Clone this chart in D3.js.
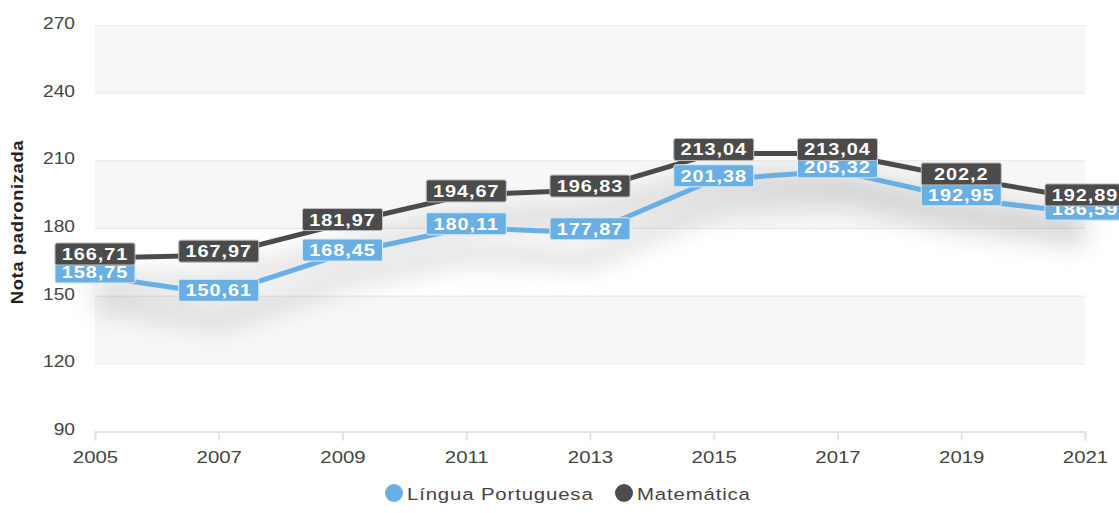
<!DOCTYPE html>
<html>
<head>
<meta charset="utf-8">
<script src="https://cdn.jsdelivr.net/npm/d3@7"></script>
<style>
  body { margin: 0; background: #fff; }
  svg { display: block; font-family: "Liberation Sans", Arial, sans-serif; }
</style>
</head>
<body>
<div id="chart"></div>
<script>
const years = [2005, 2007, 2009, 2011, 2013, 2015, 2017, 2019, 2021];
const portugues = [158.75, 150.61, 168.45, 180.11, 177.87, 201.38, 205.32, 192.95, 186.59];
const matematica = [166.71, 167.97, 181.97, 194.67, 196.83, 213.04, 213.04, 202.2, 192.89];
const yTicks = [90, 120, 150, 180, 210, 240, 270];
const seriesNames = ["Língua Portuguesa", "Matemática"];

const width = 1119;
const height = 513;

const svg = d3.select("#chart")
    .append("svg")
    .attr("width", width)
    .attr("height", height);

const x = d3.scaleLinear().domain([2005, 2021]).range([95, 1085]);
const y = d3.scaleLinear().domain([90, 270]).range([431, 25]);

const colors = { port: "#6aafe3", mat: "#4b4b4b" };

// shadow filter under the lines
const defs = svg.append("defs");
const f = defs.append("filter").attr("id", "shadow")
    .attr("x", "-10%").attr("y", "-50%").attr("width", "120%").attr("height", "300%");
f.append("feGaussianBlur").attr("in", "SourceAlpha").attr("stdDeviation", 12);
f.append("feOffset").attr("dy", 26).attr("result", "b");
f.append("feFlood").attr("flood-color", "#000").attr("flood-opacity", 0.17);
f.append("feComposite").attr("in2", "b").attr("operator", "in");

// alternating bands
const bands = [[240, 270], [180, 210], [120, 150]];
svg.append("g").selectAll("rect")
    .data(bands)
    .enter()
    .append("rect")
    .attr("x", x(2005))
    .attr("width", x(2021) - x(2005))
    .attr("y", d => y(d[1]))
    .attr("height", d => y(d[0]) - y(d[1]))
    .attr("fill", "#f7f7f7");

// grid lines
svg.append("g").selectAll("line")
    .data(yTicks.filter(t => t !== 90))
    .enter()
    .append("line")
    .attr("x1", x(2005))
    .attr("x2", x(2021))
    .attr("y1", d => y(d) + 0.5)
    .attr("y2", d => y(d) + 0.5)
    .attr("stroke", "#e9e9e9")
    .attr("stroke-width", 1);

// y axis labels (text is a bit wide in the original, so stretch it)
svg.append("g").selectAll("text")
    .data(yTicks)
    .enter()
    .append("text")
    .attr("transform", d => "translate(75," + (y(d) + 4) + ") scale(1.13,1)")
    .attr("text-anchor", "end")
    .attr("font-size", "17px")
    .attr("fill", "#444")
    .text(d => d);

svg.append("text")
    .attr("transform", "translate(23,222) rotate(-90) scale(1.08,1)")
    .attr("text-anchor", "middle")
    .attr("font-size", "17px")
    .attr("font-weight", "bold")
    .attr("letter-spacing", "0.6px")
    .attr("fill", "#222")
    .text("Nota padronizada");

// x axis
const xAxis = d3.axisBottom(x)
    .tickValues(years)
    .tickFormat(d3.format("d"))
    .tickSize(9)
    .tickPadding(10);

const gx = svg.append("g")
    .attr("transform", "translate(0," + (y(90) + 0.5) + ")")
    .call(xAxis);
gx.select(".domain").attr("stroke", "#e3e3e3").attr("stroke-width", 2);
gx.selectAll(".tick line").attr("stroke", "#e3e3e3").attr("stroke-width", 2);
gx.selectAll(".tick text")
    .attr("font-family", "'Liberation Sans', Arial, sans-serif")
    .attr("font-size", "17px")
    .attr("transform", "scale(1.2,1)")
    .attr("fill", "#444");

// lines
const series = [
    { key: "port", values: portugues },
    { key: "mat", values: matematica }
];

const line = d3.line()
    .x((d, i) => x(years[i]))
    .y(d => y(d));

svg.append("g")
    .attr("filter", "url(#shadow)")
    .selectAll("path")
    .data(series)
    .enter()
    .append("path")
    .attr("d", d => line(d.values))
    .attr("fill", "none")
    .attr("stroke", "#000")
    .attr("stroke-width", 14);

svg.append("g")
    .selectAll("path")
    .data(series)
    .enter()
    .append("path")
    .attr("d", d => line(d.values))
    .attr("fill", "none")
    .attr("stroke", d => colors[d.key])
    .attr("stroke-width", 5)
    .attr("stroke-linejoin", "round");

// data labels
const fmt = v => String(v).replace(".", ",");

series.forEach(s => {
    const g = svg.append("g").selectAll("g")
        .data(s.values)
        .enter()
        .append("g")
        .attr("transform", (d, i) => "translate(" + x(years[i]) + "," + (y(d) - 4) + ")");

    g.append("rect")
        .attr("x", -40)
        .attr("y", -11)
        .attr("width", 80)
        .attr("height", 22)
        .attr("rx", 2)
        .attr("fill", colors[s.key])
        .attr("stroke", s.key === "mat" ? "#bdbdbd" : "#d8ecfa")
        .attr("stroke-width", 1);

    g.append("text")
        .attr("text-anchor", "middle")
        .attr("transform", "translate(0,6) scale(1.17,1)")
        .attr("font-size", "17px")
        .attr("font-weight", "bold")
        .attr("letter-spacing", "0.8px")
        .attr("fill", "#fff")
        .text(d => fmt(d));
});

// legend
const legend = [
    { name: seriesNames[0], color: colors.port, cx: 394 },
    { name: seriesNames[1], color: colors.mat, cx: 624 }
];

const lg = svg.append("g").selectAll("g")
    .data(legend)
    .enter()
    .append("g");

lg.append("circle")
    .attr("cx", d => d.cx)
    .attr("cy", 493)
    .attr("r", 9)
    .attr("fill", d => d.color);

lg.append("text")
    .attr("transform", d => "translate(" + (d.cx + 13) + ",500) scale(1.2,1)")
    .attr("font-size", "17px")
    .attr("letter-spacing", "0.7px")
    .attr("fill", "#444")
    .text(d => d.name);
</script>
</body>
</html>
